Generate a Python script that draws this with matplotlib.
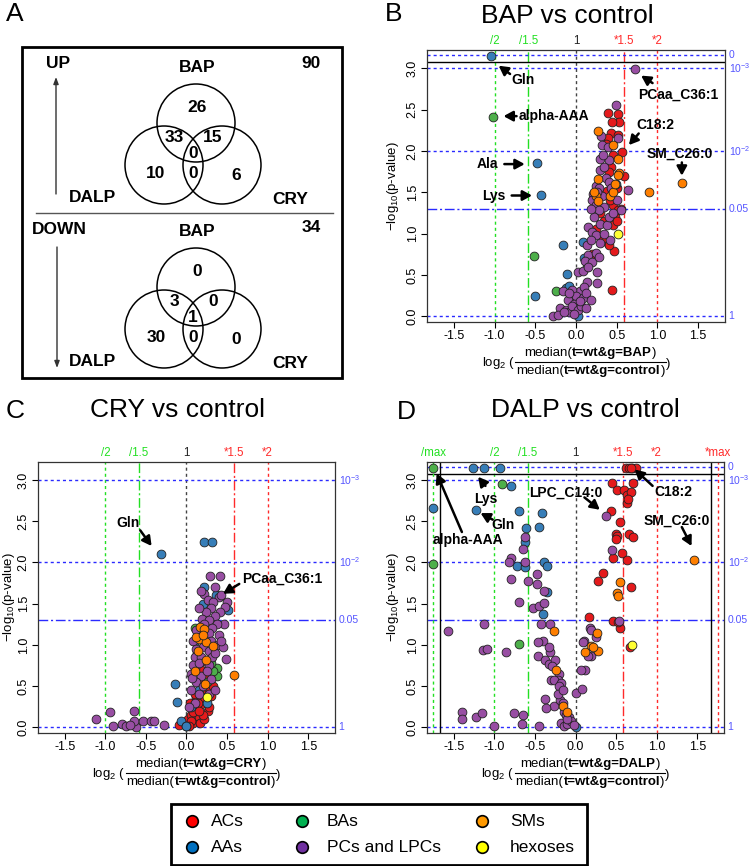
import numpy as np
import matplotlib
matplotlib.use('Agg')
import matplotlib.pyplot as plt
from matplotlib.patches import Circle, Rectangle
from matplotlib.lines import Line2D
import matplotlib.transforms as mtransforms

plt.rcParams['font.family'] = ['Liberation Sans', 'DejaVu Sans']
plt.rcParams['mathtext.fontset'] = 'custom'
plt.rcParams['mathtext.rm'] = 'Liberation Sans'
plt.rcParams['mathtext.it'] = 'Liberation Sans:italic'
plt.rcParams['mathtext.bf'] = 'Liberation Sans:bold'
plt.rcParams['axes.unicode_minus'] = False

# --- Venn counts (panel A) ---
up_counts = [26, 33, 15, 0, 10, 0, 6]
down_counts = [0, 3, 0, 1, 30, 0, 0]
up_total = 90
down_total = 34

# --- colours of metabolite classes ---
cat_names = ['ACs', 'AAs', 'BAs', 'PCs and LPCs', 'SMs', 'hexoses']
cat_cols = ['#e41a1c', '#377eb8', '#4daf4a', '#984ea3', '#ff7f00', '#ffff33']
leg_cols = ['#ff0000', '#0070c0', '#00b050', '#7030a0', '#ff9900', '#ffff00']

# --- BAP vs control (x = log2 fold change, y = -log10 p) ---
bap_ac = [(0.39, 2.46), (0.52, 2.45), (0.53, 2.35), (0.44, 2.35), (0.43, 2.22), (0.39, 2.15),
          (0.57, 1.99), (0.43, 1.81), (0.59, 1.70), (0.52, 2.19), (0.37, 2.08), (0.45, 1.95),
          (0.40, 1.75), (0.50, 1.55), (0.45, 1.35), (0.55, 1.30), (0.52, 1.28), (0.48, 1.20),
          (0.45, 1.10), (0.39, 0.89), (0.47, 0.79), (0.41, 0.86), (0.44, 0.32), (0.35, 1.15),
          (0.30, 1.25), (0.42, 1.40), (0.33, 0.95), (0.50, 1.15), (0.25, 1.05), (0.20, 0.75),
          (0.38, 1.52)]
bap_aa = [(-1.04, 3.15), (-0.48, 1.85), (-0.43, 1.47), (0.49, 1.60), (-0.16, 0.86), (-0.11, 0.51),
          (-0.50, 0.24), (0.03, 0.00), (-0.12, 0.34), (-0.09, 0.36), (0.10, 0.70), (0.08, 0.90)]
bap_ba = [(-1.015, 2.41), (-0.52, 0.73), (-0.25, 0.30), (0.14, 0.60), (-0.05, 0.20)]
bap_pc = [(0.72, 2.99), (0.49, 2.55), (0.31, 2.18), (0.51, 2.15), (0.32, 2.07), (0.39, 2.05),
          (0.30, 1.90), (0.40, 1.89), (0.30, 1.77), (0.37, 1.67), (0.64, 1.53), (0.24, 1.57),
          (0.21, 1.48), (0.32, 1.45), (0.20, 1.40), (0.25, 1.35), (0.35, 1.32), (0.50, 1.40),
          (0.55, 1.28), (0.28, 1.28), (0.22, 1.20), (0.30, 1.12), (0.38, 1.10), (0.15, 1.08),
          (0.20, 1.02), (0.25, 0.98), (0.42, 0.92), (0.13, 0.86), (0.18, 0.92), (0.30, 0.88),
          (0.15, 0.74), (0.24, 0.76), (0.11, 0.67), (0.20, 0.65), (0.02, 0.53), (0.26, 0.53),
          (0.08, 0.55), (0.14, 0.41), (0.26, 0.40), (-0.16, 0.31), (0.05, 0.30), (0.10, 0.35),
          (-0.05, 0.32), (0.00, 0.25), (0.08, 0.22), (-0.10, 0.20), (-0.02, 0.15), (0.12, 0.28),
          (-0.20, 0.10), (-0.12, 0.08), (-0.08, 0.05), (-0.05, 0.12), (0.02, 0.08), (0.06, 0.12),
          (-0.28, 0.00), (-0.22, 0.02), (-0.15, 0.05), (-0.03, 0.03), (0.12, 0.10), (0.05, 0.18),
          (-0.08, 0.28), (0.18, 0.20), (0.15, 0.60), (0.28, 0.72), (0.35, 1.00), (0.40, 1.20),
          (0.18, 1.30), (0.28, 1.55), (0.35, 1.80), (0.40, 1.62), (0.33, 1.95), (0.43, 1.55),
          (0.26, 1.50), (0.45, 1.25)]
bap_sm = [(0.27, 2.24), (0.45, 2.07), (0.51, 1.90), (0.53, 1.73), (0.27, 1.66), (0.25, 1.46),
          (0.42, 1.45), (0.27, 1.39), (0.90, 1.50), (1.30, 1.61), (0.51, 1.71), (0.45, 1.50),
          (0.22, 1.50), (0.48, 1.60)]
bap_hx = [(0.52, 1.00)]

# --- CRY vs control ---
cry_ac = [(-0.09, 0.03), (0.02, 0.10), (0.05, 0.15), (0.08, 0.05), (0.10, 0.20), (0.12, 0.22),
          (0.15, 0.12), (0.18, 0.28), (0.20, 0.40), (0.22, 0.35), (0.25, 0.45), (0.28, 0.48),
          (0.30, 0.38), (0.12, 0.35), (0.06, 0.08), (0.17, 0.05), (0.14, 0.30), (0.26, 0.20),
          (0.18, 0.45), (0.08, 0.18), (0.22, 0.10), (0.03, 0.02), (0.33, 0.50), (0.20, 0.15),
          (0.15, 0.55), (0.10, 0.40), (0.25, 0.60), (0.18, 0.70), (0.10, 0.72), (0.22, 0.80),
          (0.13, 0.90), (0.28, 0.25), (0.04, 0.30), (0.16, 0.20)]
cry_aa = [(-0.32, 2.10), (0.21, 2.25), (0.31, 2.25), (0.21, 1.70), (0.36, 1.60), (0.20, 1.50),
          (0.51, 1.42), (-0.14, 0.52), (-0.12, 0.31), (-0.07, 0.07), (0.00, 0.02), (-0.01, 0.01),
          (0.15, 0.45), (0.05, 0.25), (0.10, 1.05), (0.25, 0.30)]
cry_ba = [(0.37, 0.72), (0.37, 0.62), (0.33, 0.68), (0.10, 1.20), (0.30, 0.78), (0.25, 0.55)]
cry_pc = [(0.29, 1.83), (0.41, 1.84), (0.22, 1.62), (0.40, 1.58), (0.42, 1.60), (0.27, 1.55),
          (0.33, 1.52), (0.50, 1.52), (0.48, 1.46), (0.41, 1.40), (0.30, 1.45), (0.24, 1.40),
          (0.35, 1.35), (0.19, 1.32), (0.28, 1.30), (0.46, 1.25), (0.38, 1.25), (0.22, 1.25),
          (0.32, 1.20), (0.12, 1.18), (0.28, 1.15), (0.40, 1.12), (0.18, 1.08), (0.30, 1.05),
          (0.08, 1.05), (0.20, 0.98), (0.38, 1.00), (0.45, 0.98), (0.12, 0.95), (0.28, 0.92),
          (0.49, 0.83), (0.10, 0.85), (0.18, 0.85), (0.32, 0.85), (0.08, 0.75), (0.15, 0.78),
          (0.28, 0.75), (0.05, 0.65), (0.18, 0.62), (0.30, 0.58), (0.12, 0.55), (0.06, 0.45),
          (0.20, 0.50), (0.10, 0.30), (0.03, 0.25), (0.28, 0.40), (0.15, 0.40), (0.35, 0.45),
          (0.07, 0.60), (0.25, 0.68), (0.35, 0.90), (0.42, 1.05), (0.15, 1.45), (0.18, 1.65),
          (0.35, 1.70),
          (-1.11, 0.10), (-0.94, 0.19), (-0.65, 0.20), (-0.90, 0.02), (-0.80, 0.04), (-0.75, 0.02),
          (-0.62, 0.00), (-0.65, 0.07), (-0.53, 0.07), (-0.44, 0.07), (-0.40, 0.07), (-0.28, 0.03),
          (-0.70, 0.03)]
cry_sm = [(0.17, 1.22), (0.22, 1.19), (0.15, 1.07), (0.24, 1.03), (0.33, 0.99), (0.14, 0.93),
          (0.24, 0.82), (0.11, 0.68), (0.23, 0.52), (0.59, 0.63), (0.12, 1.10), (0.20, 1.12)]
cry_hx = [(0.25, 0.37)]

# --- DALP vs control ---
dalp_ac = [(0.62, 3.15), (0.66, 3.15), (0.70, 3.15), (0.74, 3.15), (0.68, 3.15), (0.45, 2.96),
           (0.51, 2.88), (0.60, 2.88), (0.71, 2.96), (0.64, 2.82), (0.68, 2.85), (0.63, 2.72),
           (0.65, 2.77), (0.44, 2.62), (0.55, 2.49), (0.50, 2.35), (0.51, 2.32), (0.50, 2.28),
           (0.66, 2.35), (0.71, 2.31), (0.46, 2.06), (0.57, 2.11), (0.63, 2.03), (0.34, 1.87),
           (0.28, 1.78), (0.68, 1.70), (0.17, 1.34), (0.46, 1.29), (0.55, 1.21), (0.67, 0.97),
           (0.52, 1.28)]
dalp_aa = [(-1.26, 3.15), (-1.13, 3.15), (-0.93, 3.15), (-0.80, 2.93), (-1.76, 2.66), (-1.23, 2.64),
           (-0.70, 2.62), (-0.41, 2.60), (-0.61, 2.42), (-0.45, 2.43), (-0.62, 2.25), (-0.72, 1.96),
           (-0.62, 1.95), (-0.39, 2.00), (-0.35, 1.96), (-0.35, 1.64), (-0.40, 1.38), (0.00, 0.00)]
dalp_ba = [(-1.76, 3.15), (-0.91, 2.95), (-1.76, 1.98), (-0.70, 1.01)]
dalp_pc = [(0.37, 2.57), (0.45, 2.15), (0.53, 1.29), (0.18, 1.21), (0.19, 1.18), (0.25, 1.10),
           (0.11, 1.05), (0.19, 0.86), (0.12, 0.69), (0.09, 1.04), (0.15, 0.86), (0.07, 0.70),
           (-0.62, 2.31), (-0.65, 2.16), (-0.79, 2.05), (-0.82, 2.00), (-0.62, 2.00), (-0.79, 1.80),
           (-0.59, 1.78), (-0.48, 1.86), (-0.48, 1.74), (-0.39, 1.65), (-0.70, 1.52), (-0.52, 1.45),
           (-0.45, 1.47), (-0.39, 1.51), (-1.13, 1.25), (-1.57, 1.17), (-0.43, 1.25), (-0.32, 1.25),
           (-0.40, 1.05), (-0.46, 1.03), (-1.14, 0.94), (-1.09, 0.95), (-0.86, 0.91), (-0.31, 0.91),
           (-0.33, 0.98), (-0.46, 0.86), (-0.37, 0.82), (-0.33, 0.77), (-0.25, 0.82), (-0.29, 0.74),
           (-0.20, 0.65), (-0.30, 0.57), (-0.22, 0.57), (-0.26, 0.57), (-0.18, 0.54), (-0.20, 0.50),
           (0.00, 0.41), (0.08, 0.46), (-0.37, 0.34), (-0.26, 0.26), (-0.36, 0.23), (-0.19, 0.33),
           (-0.16, 0.30), (-0.14, 0.19), (-0.12, 0.15), (-0.08, 0.12), (-0.76, 0.17), (-0.65, 0.15),
           (-0.66, 0.04), (-0.45, 0.02), (-0.18, 0.05), (-0.14, 0.02), (-0.10, 0.04), (-0.05, 0.08),
           (-0.02, 0.03), (-1.40, 0.19), (-1.40, 0.10), (-1.23, 0.12), (-1.15, 0.17), (-1.01, 0.02),
           (-0.22, 0.40), (-0.10, 0.10), (-0.15, 0.45)]
dalp_sm = [(1.46, 2.03), (0.55, 1.76), (0.51, 1.63), (0.52, 1.59), (0.26, 1.14), (0.19, 0.99),
           (0.28, 0.93), (0.12, 0.91), (0.22, 0.97), (-0.26, 1.17), (-0.24, 0.69), (-0.16, 0.26),
           (-0.10, 0.18)]
dalp_hx = [(0.70, 1.00)]

# annotations: label, text x, text y, arrow tail x, y, arrow tip x, y, ha
bap_notes = [('Gln', -0.65, 2.86, -0.81, 2.93, -0.95, 3.03, 'center'),
             ('alpha-AAA', -0.70, 2.42, -0.73, 2.42, -0.89, 2.42, 'left'),
             ('Ala', -0.95, 1.84, -0.88, 1.84, -0.63, 1.84, 'right'),
             ('Lys', -0.86, 1.46, -0.79, 1.46, -0.54, 1.46, 'right'),
             ('PCaa_C36:1', 1.25, 2.68, 0.94, 2.82, 0.80, 2.91, 'center'),
             ('C18:2', 0.97, 2.31, 0.77, 2.21, 0.65, 2.07, 'center'),
             ('SM_C26:0', 1.28, 1.97, 1.30, 1.86, 1.30, 1.70, 'center')]
cry_notes = [('Gln', -0.72, 2.48, -0.57, 2.39, -0.43, 2.20, 'center'),
             ('PCaa_C36:1', 1.18, 1.80, 0.65, 1.74, 0.45, 1.62, 'center')]
dalp_notes = [('Lys', -1.10, 2.77, -1.11, 2.93, -1.20, 3.04, 'center'),
              ('Gln', -0.89, 2.46, -1.02, 2.52, -1.17, 2.60, 'center'),
              ('alpha-AAA', -1.32, 2.27, -1.40, 2.37, -1.71, 3.08, 'center'),
              ('LPC_C14:0', -0.12, 2.85, 0.11, 2.79, 0.30, 2.64, 'center'),
              ('C18:2', 1.21, 2.85, 0.95, 2.93, 0.73, 3.13, 'center'),
              ('SM_C26:0', 1.25, 2.51, 1.31, 2.43, 1.43, 2.20, 'center')]

GREEN = '#22e022'
RED = '#ff2a2a'
BLUE = '#2a2aff'
BLUE_TXT = '#5555ff'
ZERO_Y = 3.16
BREAK_Y = 3.08
dotted = (0, (2.2, 2.2))
dashdot = (0, (7, 2, 1.5, 2))
LAB_FS = 9.5

fig = plt.figure(figsize=(7.5, 8.66), dpi=100)
renderer = fig.canvas.get_renderer()


def text_width(s, weight):
    t = fig.text(0, 0, s, fontsize=LAB_FS, fontweight=weight)
    w = t.get_window_extent(renderer).width
    t.remove()
    return w


def frac_label(ax, grp, y_axes):
    # log2 ( median(...)/median(...) ) built from pieces, bold group part
    num = [('median(', 'normal'), ('t=wt&g=' + grp, 'bold'), (')', 'normal')]
    den = [('median(', 'normal'), ('t=wt&g=control', 'bold'), (')', 'normal')]
    pre = r'$\mathrm{log}_2$ ('
    wpre = text_width(pre, 'normal')
    wnum = sum(text_width(s, w) for s, w in num)
    wden = sum(text_width(s, w) for s, w in den)
    wpost = text_width(')', 'normal')
    wfrac = max(wnum, wden) + 2
    total = wpre + wfrac + wpost
    cx, cy = ax.transAxes.transform((0.5, y_axes))
    x0 = cx - total / 2
    idt = mtransforms.IdentityTransform()
    fig.text(x0, cy - 1, pre, transform=idt, fontsize=LAB_FS, ha='left', va='center')
    for parts, wrow, dy in [(num, wnum, 9), (den, wden, -9)]:
        xx = x0 + wpre + (wfrac - wrow) / 2
        for s, w in parts:
            fig.text(xx, cy + dy, s, transform=idt, fontsize=LAB_FS, fontweight=w,
                     ha='left', va='center')
            xx += text_width(s, w)
    fig.add_artist(Line2D([x0 + wpre, x0 + wpre + wfrac], [cy, cy], transform=idt,
                          color='black', lw=0.8))
    fig.text(x0 + wpre + wfrac, cy - 2, ')', transform=idt, fontsize=LAB_FS,
             ha='left', va='center')


def volcano(ax, groups, notes, group_name, has_zero, has_max, ylab_x):
    ax.set_xlim(-1.83, 1.83)
    ax.set_ylim(-0.07, 3.22)
    # fold-change thresholds
    ax.axvline(np.log2(1 / 2), color=GREEN, ls=dotted, lw=1, zorder=1)
    ax.axvline(np.log2(1 / 1.5), color=GREEN, ls=dashdot, lw=1, zorder=1)
    ax.axvline(0, color='#444444', ls=dotted, lw=1, zorder=1)
    ax.axvline(np.log2(1.5), color=RED, ls=dashdot, lw=1, zorder=1)
    ax.axvline(np.log2(2), color=RED, ls=dotted, lw=1, zorder=1)
    # p-value thresholds
    for yv in [0, 2, 3]:
        ax.axhline(yv, color=BLUE, ls=dotted, lw=1, zorder=1)
    ax.axhline(-np.log10(0.05), color=BLUE, ls=dashdot, lw=1, zorder=1)
    tops = [('/2', np.log2(0.5), GREEN), ('/1.5', np.log2(1 / 1.5), GREEN), ('1', 0, '#222222'),
            ('*1.5', np.log2(1.5), RED), ('*2', 1, RED)]
    rights = [('$10^{-3}$', 3), ('$10^{-2}$', 2), ('0.05', -np.log10(0.05)), ('1', 0)]
    if has_zero:
        ax.axhline(ZERO_Y, color=BLUE, ls=dotted, lw=1, zorder=1)
        ax.axhline(BREAK_Y, color='black', lw=1, zorder=1)
        rights.append(('0', ZERO_Y))
    if has_max:
        ax.axvline(-1.75, color=GREEN, ls=dotted, lw=1, zorder=1)
        ax.axvline(1.75, color=RED, ls=dotted, lw=1, zorder=1)
        ax.axvline(-1.67, color='black', lw=1, zorder=1)
        ax.axvline(1.67, color='black', lw=1, zorder=1)
        tops += [('/max', -1.75, GREEN), ('*max', 1.75, RED)]
    tr_top = mtransforms.blended_transform_factory(ax.transData, ax.transAxes)
    for lab, xv, col in tops:
        ax.text(xv, 1.012, lab, transform=tr_top, color=col, fontsize=8.3,
                ha='center', va='bottom')
    tr_r = mtransforms.blended_transform_factory(ax.transAxes, ax.transData)
    for lab, yv in rights:
        ax.text(1.012, yv, lab, transform=tr_r, color=BLUE_TXT, fontsize=7.5,
                ha='left', va='center')
    # points
    for pts, col in zip(groups, cat_cols):
        if len(pts) == 0:
            continue
        xs = [p[0] for p in pts]
        ys = [p[1] for p in pts]
        ax.scatter(xs, ys, s=40, c=col, edgecolors='#222222', linewidths=0.6, zorder=3)
    # labels + arrows
    for lab, tx, ty, ax0, ay0, ax1, ay1, ha in notes:
        ax.text(tx, ty, lab, fontsize=10, fontweight='bold', ha=ha, va='center', zorder=5)
        ax.annotate('', xy=(ax1, ay1), xytext=(ax0, ay0),
                    arrowprops=dict(arrowstyle='-|>,head_length=0.55,head_width=0.3',
                                    color='black', lw=1.8, shrinkA=0, shrinkB=0), zorder=5)
    ax.set_xticks([-1.5, -1.0, -0.5, 0.0, 0.5, 1.0, 1.5])
    ax.set_xticklabels(['-1.5', '-1.0', '-0.5', '0.0', '0.5', '1.0', '1.5'])
    ax.set_yticks([0, 0.5, 1, 1.5, 2, 2.5, 3])
    ax.set_yticklabels(['0.0', '0.5', '1.0', '1.5', '2.0', '2.5', '3.0'])
    ax.tick_params(labelsize=9, length=4, width=0.8, pad=2, direction='out')
    ax.tick_params(axis='y', labelrotation=90)
    for t in ax.get_yticklabels():
        t.set_va('center')
    for sp in ax.spines.values():
        sp.set_linewidth(0.9)
        sp.set_color('#333333')
    ax.text(ylab_x, 0.5, r'$-\mathrm{log}_{10}$(p-value)', transform=ax.transAxes,
            rotation=90, ha='center', va='center', fontsize=LAB_FS)
    frac_label(ax, group_name, -0.147)


ax_b = fig.add_axes([427 / 750, 1 - 322 / 866, 298 / 750, 272 / 866])
ax_c = fig.add_axes([38 / 750, 1 - 733 / 866, 297 / 750, 271 / 866])
ax_d = fig.add_axes([427 / 750, 1 - 733 / 866, 297 / 750, 271 / 866])

volcano(ax_b, [bap_ac, bap_aa, bap_ba, bap_pc, bap_sm, bap_hx], bap_notes, 'BAP', True, False, -0.114)
volcano(ax_c, [cry_ac, cry_aa, cry_ba, cry_pc, cry_sm, cry_hx], cry_notes, 'CRY', False, False, -0.098)
volcano(ax_d, [dalp_ac, dalp_aa, dalp_ba, dalp_pc, dalp_sm, dalp_hx], dalp_notes, 'DALP', True, True, -0.114)

# overlay in pixel coordinates for panel A, titles and legend
ov = fig.add_axes([0, 0, 1, 1], zorder=-1)
ov.set_xlim(0, 750)
ov.set_ylim(866, 0)
ov.axis('off')

for lab, x, y in [('A', 15, 14), ('B', 394, 14), ('C', 15, 411), ('D', 406, 412)]:
    ov.text(x, y, lab, fontsize=19, ha='center', va='center')
ov.text(567, 16, 'BAP vs control', fontsize=19, ha='center', va='center')
ov.text(178, 410, 'CRY vs control', fontsize=19, ha='center', va='center')
ov.text(585, 410, 'DALP vs control', fontsize=19, ha='center', va='center')

# panel A box
ov.add_patch(Rectangle((22, 47), 320, 331, fill=False, lw=2, ec='black'))
ov.plot([36, 333], [213, 213], color='#555555', lw=1)

offsets = [(1, -15), (-22, 15), (17, 14), (-3, 30), (-40, 50), (-3, 51), (40, 52)]


def venn(cx, cy, counts, total, head, arrow_up):
    for dx, dy in [(0, 0), (-32, 42), (26, 42)]:
        ov.add_patch(Circle((cx + dx, cy + dy), 39, fill=False, lw=1.1, ec='black'))
    for (ox, oy), n in zip(offsets, counts):
        ov.text(cx + ox, cy + oy, str(n), fontsize=12.5, fontweight='bold', ha='center', va='center')
    ov.text(cx + 1, cy - 55, 'BAP', fontsize=12.5, fontweight='bold', ha='center', va='center')
    ov.text(311, cy - 59, str(total), fontsize=12.5, fontweight='bold', ha='center', va='center')
    ov.text(93, cy + 75, 'DALP', fontsize=12.5, fontweight='bold', ha='center', va='center')
    ov.text(290, cy + 77, 'CRY', fontsize=12.5, fontweight='bold', ha='center', va='center')
    ov.text(58 if arrow_up else 59, cy - 60 if arrow_up else cy - 58, head,
            fontsize=12.5, fontweight='bold', ha='center', va='center')
    if arrow_up:
        ov.annotate('', xy=(56, 77), xytext=(56, 194),
                    arrowprops=dict(arrowstyle='-|>,head_length=0.4,head_width=0.15',
                                    color='#333333', lw=1, shrinkA=0, shrinkB=0))
    else:
        ov.annotate('', xy=(57, 368), xytext=(57, 247),
                    arrowprops=dict(arrowstyle='-|>,head_length=0.4,head_width=0.15',
                                    color='#333333', lw=1, shrinkA=0, shrinkB=0))


venn(196, 123, up_counts, up_total, 'UP', True)
venn(196, 287, down_counts, down_total, 'DOWN', False)

# legend
ov.add_patch(Rectangle((171, 804), 416, 61, fill=False, lw=2, ec='black'))
leg_pos = [(192, 821), (192, 847), (302, 821), (302, 847), (482, 821), (482, 847)]
for (lx, ly), i in zip(leg_pos, range(6)):
    ov.scatter([lx], [ly], s=70, c=leg_cols[i], edgecolors='black', linewidths=1.2)
    ov.text(lx + 19 if i < 2 else lx + 25 if i < 4 else lx + 28, ly, cat_names[i],
            fontsize=12.5, ha='left', va='center')

fig.savefig('out.png', dpi=100)
